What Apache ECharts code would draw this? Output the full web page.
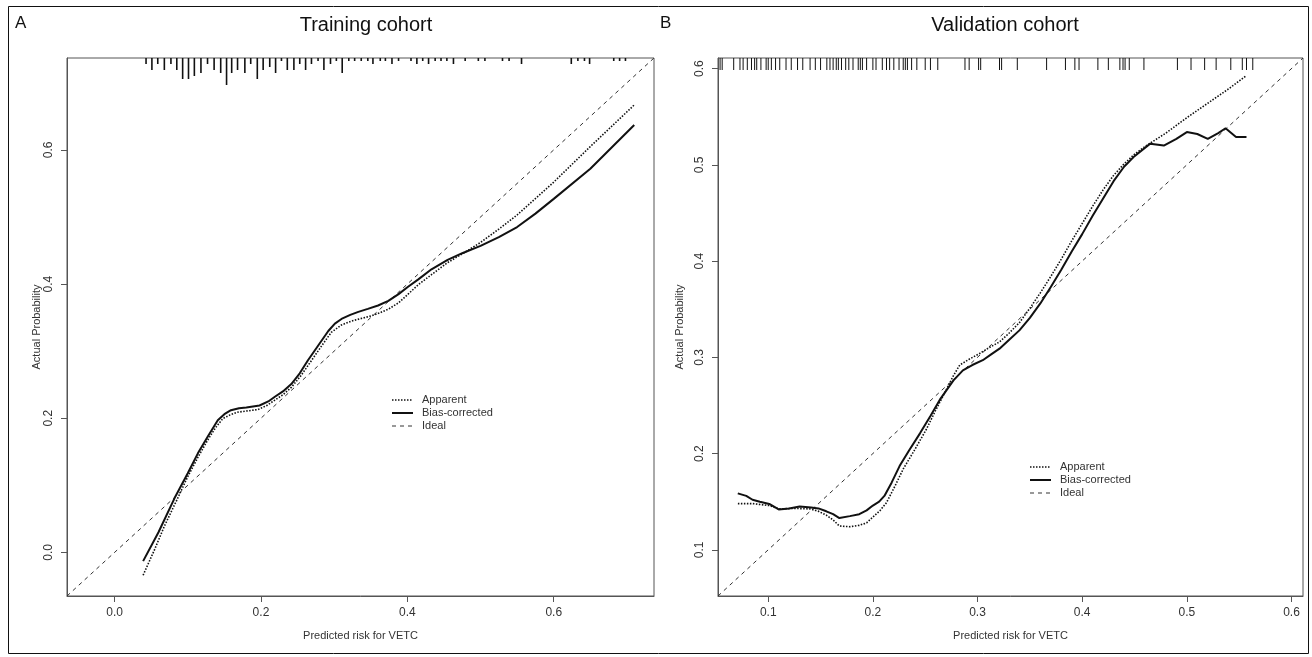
<!DOCTYPE html>
<html>
<head>
<meta charset="utf-8">
<title>Calibration curves</title>
<script src="https://cdn.jsdelivr.net/npm/echarts@6/dist/echarts.min.js"></script>
<style>
  html, body { margin: 0; padding: 0; background: #fff; }
  #main { width: 1312px; height: 657px; }
</style>
</head>
<body>
<div id="main"></div>
<script>
// 坐标范围 (R 的 xlim = ylim)
var trainLim = [-0.065, 0.737];
var validLim = [0.052, 0.611];

var trainTicks = [0, 0.2, 0.4, 0.6];
var validTicks = [0.1, 0.2, 0.3, 0.4, 0.5, 0.6];

var legendNames = ['Apparent', 'Bias-corrected', 'Ideal'];

// Training cohort - Apparent (虚点线)
var trainApparent = [
  [0.039,-0.034],[0.055,0.005],[0.068,0.039],[0.085,0.078],[0.100,0.113],[0.114,0.142],
  [0.127,0.167],[0.138,0.186],[0.148,0.1996],[0.158,0.205],[0.168,0.209],[0.182,0.211],
  [0.196,0.213],[0.208,0.219],[0.219,0.227],[0.230,0.235],[0.2415,0.246],[0.255,0.264],
  [0.269,0.286],[0.283,0.308],[0.296,0.328],[0.310,0.339],[0.324,0.345],[0.338,0.349],
  [0.351,0.3526],[0.362,0.357],[0.374,0.3625],[0.388,0.372],[0.401,0.385],[0.416,0.400],
  [0.433,0.414],[0.455,0.432],[0.475,0.445],[0.50,0.462],[0.525,0.482],[0.55,0.503],
  [0.60,0.552],[0.65,0.605],[0.71,0.667]
];
// Training cohort - Bias-corrected (实线)
var trainBias = [
  [0.039,-0.013],[0.060,0.030],[0.082,0.081],[0.100,0.118],[0.114,0.148],[0.128,0.174],
  [0.141,0.197],[0.150,0.206],[0.159,0.212],[0.170,0.215],[0.180,0.216],[0.198,0.219],
  [0.210,0.225],[0.219,0.232],[0.230,0.240],[0.2415,0.251],[0.253,0.267],[0.264,0.286],
  [0.278,0.308],[0.292,0.330],[0.301,0.341],[0.310,0.348],[0.322,0.354],[0.333,0.3585],
  [0.346,0.363],[0.360,0.368],[0.374,0.375],[0.388,0.385],[0.401,0.396],[0.415,0.407],
  [0.433,0.422],[0.455,0.436],[0.475,0.446],[0.50,0.457],[0.525,0.470],[0.55,0.485],
  [0.575,0.505],[0.60,0.527],[0.65,0.572],[0.71,0.637]
];
// Training cohort - 顶部频数刻度
var trainRugX = [
  0.043,0.051,0.059,0.068,0.077,0.085,0.093,0.101,0.109,0.118,0.127,0.136,0.145,0.153,
  0.160,0.168,0.178,0.186,0.195,0.203,0.212,0.220,0.228,0.236,0.245,0.253,0.261,0.269,
  0.278,0.286,0.295,0.303,0.311,0.320,0.328,0.337,0.346,0.353,0.363,0.370,0.379,0.388,
  0.405,0.413,0.421,0.429,0.438,0.446,0.454,0.463,0.479,0.497,0.506,0.530,0.539,0.556,
  0.624,0.633,0.642,0.649,0.682,0.690,0.698
];
var trainRugN = [
  2,4,2,4,2,4,7,7,6,5,2,4,5,9,
  5,4,5,2,7,4,3,5,1,4,4,2,4,2,
  1,4,2,1,5,1,1,1,1,2,1,1,2,1,
  1,2,1,2,1,1,1,2,1,1,1,1,1,2,
  2,1,1,2,1,1,1
];

// Validation cohort
var validApparent = [
  [0.071,0.148],[0.085,0.148],[0.101,0.146],[0.110,0.1425],[0.125,0.143],[0.140,0.1425],
  [0.148,0.140],[0.1555,0.136],[0.162,0.131],[0.168,0.1247],[0.178,0.124],[0.187,0.1254],
  [0.194,0.128],[0.200,0.134],[0.207,0.141],[0.213,0.149],[0.221,0.166],[0.229,0.184],
  [0.240,0.204],[0.251,0.225],[0.260,0.245],[0.270,0.266],[0.277,0.281],[0.283,0.292],
  [0.292,0.298],[0.302,0.304],[0.311,0.310],[0.321,0.316],[0.33,0.325],[0.34,0.336],
  [0.35,0.351],[0.36,0.367],[0.37,0.384],[0.38,0.402],[0.39,0.421],[0.40,0.439],
  [0.41,0.457],[0.42,0.474],[0.43,0.489],[0.44,0.501],[0.45,0.511],[0.46,0.519],
  [0.47,0.526],[0.48,0.533],[0.50,0.549],[0.52,0.564],[0.54,0.579],[0.556,0.592]
];
var validBias = [
  [0.0709,0.1586],[0.079,0.156],[0.085,0.152],[0.092,0.150],[0.101,0.1476],[0.110,0.142],
  [0.120,0.143],[0.130,0.145],[0.141,0.144],[0.148,0.143],[0.1555,0.140],[0.162,0.137],
  [0.168,0.133],[0.178,0.135],[0.187,0.137],[0.194,0.141],[0.200,0.146],[0.206,0.150],
  [0.211,0.156],[0.218,0.170],[0.2255,0.187],[0.235,0.204],[0.245,0.221],[0.255,0.239],
  [0.264,0.256],[0.277,0.276],[0.286,0.2865],[0.295,0.292],[0.305,0.297],[0.313,0.303],
  [0.321,0.309],[0.33,0.318],[0.34,0.328],[0.35,0.341],[0.36,0.356],[0.37,0.373],
  [0.38,0.391],[0.39,0.41],[0.40,0.428],[0.41,0.447],[0.42,0.465],[0.43,0.483],
  [0.44,0.498],[0.45,0.509],[0.465,0.522],[0.478,0.520],[0.49,0.527],[0.50,0.534],
  [0.51,0.532],[0.52,0.527],[0.53,0.533],[0.537,0.538],[0.547,0.529],[0.557,0.529]
];
var validRugX = [
  0.054,0.056,0.067,0.073,0.076,0.080,0.084,0.087,0.089,0.093,0.098,0.100,0.103,0.107,0.111,
  0.117,0.122,0.128,0.133,0.140,0.145,0.150,0.156,0.159,0.162,0.165,0.167,0.170,0.174,
  0.177,0.181,0.186,0.188,0.190,0.194,0.200,0.203,0.209,0.213,0.216,0.220,0.225,0.229,
  0.231,0.233,0.237,0.242,0.250,0.255,0.262,0.288,0.292,0.301,0.303,0.321,0.323,0.338,
  0.366,0.384,0.393,0.397,0.415,0.425,0.436,0.439,0.441,0.445,0.459,0.491,0.504,0.517,
  0.528,0.542,0.553,0.557,0.563
];

var FONT = 'Liberation Sans, Arial, sans-serif';

// 线型: Apparent / Bias-corrected / Ideal
var styleApparent = { color: '#111', width: 1.6, type: [1.5, 1.5] };
var styleBias = { color: '#111', width: 2, type: 'solid' };
var styleIdeal = { color: '#333', width: 1, type: [4, 4] };
var legendStyles = [styleApparent, styleBias, styleIdeal];

function ideal(lim) {
  return [[lim[0], lim[0]], [lim[1], lim[1]]];
}

function fmt(v) { return v.toFixed(1); }

function xAxisFor(idx, lim, ticks) {
  return {
    type: 'value', gridIndex: idx, min: lim[0], max: lim[1],
    name: 'Predicted risk for VETC', nameLocation: 'middle', nameGap: 34,
    nameTextStyle: { fontFamily: FONT, fontSize: 11, color: '#333' },
    axisLine: { show: true, onZero: false, lineStyle: { color: '#555', width: 1 } },
    axisTick: { show: true, length: 6, customValues: ticks, lineStyle: { color: '#555' } },
    axisLabel: { customValues: ticks, formatter: fmt, fontFamily: FONT, fontSize: 12, color: '#333', margin: 11 },
    splitLine: { show: false }
  };
}

function yAxisFor(idx, lim, ticks, gap) {
  return {
    type: 'value', gridIndex: idx, min: lim[0], max: lim[1],
    name: 'Actual Probability', nameLocation: 'middle', nameGap: gap, nameRotate: 90,
    nameTextStyle: { fontFamily: FONT, fontSize: 11, color: '#333' },
    axisLine: { show: true, onZero: false, lineStyle: { color: '#555', width: 1 } },
    axisTick: { show: true, length: 6, customValues: ticks, lineStyle: { color: '#555' } },
    axisLabel: { customValues: ticks, formatter: fmt, rotate: 90, fontFamily: FONT, fontSize: 12, color: '#333', margin: 12 },
    splitLine: { show: false }
  };
}

// 顶部刻度: 长度与频数成正比
function rugSeries(idx, xs, ns, yTop, unit) {
  var data = xs.map(function (x, i) { return [x, ns ? ns[i] : 1]; });
  return {
    type: 'custom', xAxisIndex: idx, yAxisIndex: idx, silent: true, z: 5,
    data: data,
    renderItem: function (params, api) {
      var p = api.coord([api.value(0), yTop]);
      var len = api.value(1) * unit;
      return {
        type: 'line',
        shape: { x1: p[0], y1: p[1], x2: p[0], y2: p[1] + len },
        style: { stroke: '#111', lineWidth: ns ? 1.6 : 1 }
      };
    }
  };
}

function curve(name, idx, data, lstyle) {
  return {
    name: name, type: 'line', xAxisIndex: idx, yAxisIndex: idx,
    data: data, symbol: 'none', smooth: false, silent: true,
    lineStyle: lstyle, itemStyle: { color: lstyle.color }
  };
}

// 图例 (用 graphic 画, 与 R 的 legend 一样只有线段和文字)
function legendGraphic(x, y) {
  var children = [];
  legendNames.forEach(function (name, i) {
    var s = legendStyles[i];
    children.push({
      type: 'line', shape: { x1: 0, y1: i * 13, x2: 21, y2: i * 13 },
      style: { stroke: s.color, lineWidth: s.width, lineDash: s.type === 'solid' ? null : s.type }
    });
    children.push({
      type: 'text', x: 30, y: i * 13,
      style: { text: name, fill: '#333', font: '11px ' + FONT, textVerticalAlign: 'middle' }
    });
  });
  return { type: 'group', x: x, y: y, silent: true, children: children };
}

var chart = echarts.init(document.getElementById('main'), null, { renderer: 'canvas' });

var option = {
  backgroundColor: '#fff',
  animation: false,
  title: [
    { text: 'A', left: 10, top: 10, textStyle: { fontFamily: FONT, fontSize: 17, fontWeight: 'normal', color: '#111' } },
    { text: 'Training cohort', left: 361, top: 10, textAlign: 'center', textStyle: { fontFamily: FONT, fontSize: 20, fontWeight: 'normal', color: '#111' } },
    { text: 'B', left: 655, top: 10, textStyle: { fontFamily: FONT, fontSize: 17, fontWeight: 'normal', color: '#111' } },
    { text: 'Validation cohort', left: 1000, top: 10, textAlign: 'center', textStyle: { fontFamily: FONT, fontSize: 20, fontWeight: 'normal', color: '#111' } }
  ],
  grid: [
    { left: 67, top: 58, width: 587, height: 538, show: true, borderColor: '#555', borderWidth: 1 },
    { left: 718, top: 58, width: 585, height: 538, show: true, borderColor: '#555', borderWidth: 1 }
  ],
  xAxis: [xAxisFor(0, trainLim, trainTicks), xAxisFor(1, validLim, validTicks)],
  yAxis: [yAxisFor(0, trainLim, trainTicks, 25), yAxisFor(1, validLim, validTicks, 33)],
  series: [
    curve('Ideal', 0, ideal(trainLim), styleIdeal),
    curve('Apparent', 0, trainApparent, styleApparent),
    curve('Bias-corrected', 0, trainBias, styleBias),
    rugSeries(0, trainRugX, trainRugN, trainLim[1], 3),
    curve('Ideal', 1, ideal(validLim), styleIdeal),
    curve('Apparent', 1, validApparent, styleApparent),
    curve('Bias-corrected', 1, validBias, styleBias),
    rugSeries(1, validRugX, null, validLim[1], 12)
  ],
  graphic: [
    { type: 'rect', left: 6, top: 4, shape: { width: 1300, height: 647 },
      style: { fill: null, stroke: '#111', lineWidth: 1 }, silent: true },
    legendGraphic(392, 400),
    legendGraphic(1030, 467)
  ]
};

chart.setOption(option);
</script>
</body>
</html>
